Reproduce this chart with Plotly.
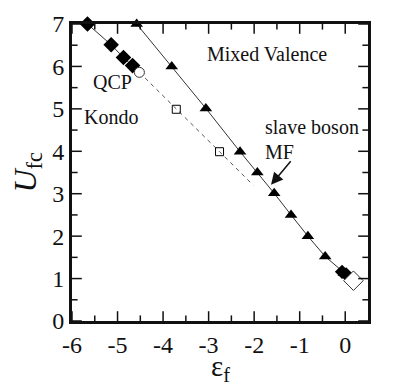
import plotly.graph_objects as go

# Kondo-side filled diamonds, ending at the QCP (open circle)
kondo_x = [-5.66, -5.14, -4.87, -4.67, -4.52]
kondo_y = [7.0, 6.51, 6.21, 6.02, 5.86]

qcp_x = [-4.52]
qcp_y = [5.86]

# dashed continuation with open squares
dash_x = [-4.52, -3.71, -2.76, -2.02]
dash_y = [5.86, 4.99, 3.99, 3.2]
square_x = [-3.71, -2.76]
square_y = [4.99, 3.99]

# slave boson MF line (triangles)
sb_x = [-4.58, -3.81, -3.06, -2.31, -1.93, -1.56, -1.19, -0.82, -0.44, -0.03, 0.18]
sb_y = [7.0, 6.0, 5.01, 3.99, 3.5, 3.01, 2.5, 2.0, 1.52, 1.13, 0.95]
tri_x = sb_x[:-1]
tri_y = sb_y[:-1]

# filled diamonds near eps_f = 0 and the open diamond end point
right_dia_x = [-0.07, 0.02]
right_dia_y = [1.16, 1.1]
end_x = [0.18]
end_y = [0.95]

x_range = [-6, 0.5]
y_range = [0, 7]
x_ticks = [-6, -5, -4, -3, -2, -1, 0]
y_ticks = [0, 1, 2, 3, 4, 5, 6, 7]
x_minor = [-5.5, -4.5, -3.5, -2.5, -1.5, -0.5]
y_minor = [0.5, 1.5, 2.5, 3.5, 4.5, 5.5, 6.5]

font = "Liberation Serif, Times New Roman, serif"
ink = "#111"

fig = go.Figure()
fig.add_trace(go.Scatter(x=dash_x, y=dash_y, mode="lines",
                         line=dict(color="#555", width=1, dash="4px,4px")))
fig.add_trace(go.Scatter(x=square_x, y=square_y, mode="markers",
                         marker=dict(symbol="square-open", size=8, color="black",
                                     line=dict(width=1))))
fig.add_trace(go.Scatter(x=kondo_x, y=kondo_y, mode="lines",
                         line=dict(color="#333", width=1)))
fig.add_trace(go.Scatter(x=kondo_x[:-1], y=kondo_y[:-1], mode="markers",
                         marker=dict(symbol="diamond", size=12, color="black"),
                         cliponaxis=False))
fig.add_trace(go.Scatter(x=qcp_x, y=qcp_y, mode="markers",
                         marker=dict(symbol="circle", size=10, color="white",
                                     line=dict(color="#333", width=1))))
fig.add_trace(go.Scatter(x=sb_x, y=sb_y, mode="lines",
                         line=dict(color="#333", width=1)))
fig.add_trace(go.Scatter(x=tri_x, y=tri_y, mode="markers",
                         marker=dict(symbol="triangle-up", size=11, color="black"),
                         cliponaxis=False))
fig.add_trace(go.Scatter(x=right_dia_x, y=right_dia_y, mode="markers",
                         marker=dict(symbol="diamond", size=11, color="black")))
fig.add_trace(go.Scatter(x=end_x, y=end_y, mode="markers",
                         marker=dict(symbol="diamond", size=15, color="white",
                                     line=dict(color="#333", width=1))))


# inward ticks on all four sides, drawn as line markers clipped by the frame
def tick_trace(xs, ys, symbol, size):
    return go.Scatter(x=xs, y=ys, mode="markers", hoverinfo="skip",
                      marker=dict(symbol=symbol, size=size, color=ink,
                                  line=dict(color=ink, width=1.5)))


for xs, size in [(x_ticks, 14), (x_minor, 8)]:
    for edge in y_range:
        fig.add_trace(tick_trace(xs, [edge] * len(xs), "line-ns", size))
for ys, size in [(y_ticks, 14), (y_minor, 8)]:
    for edge in x_range:
        fig.add_trace(tick_trace([edge] * len(ys), ys, "line-ew", size))

fig.update_traces(showlegend=False)

labels = [
    ("Mixed Valence", -3.08, 6.29),
    ("QCP", -5.58, 5.64),
    ("Kondo", -5.78, 4.8),
    ("slave boson", -1.8, 4.58),
    ("MF", -1.8, 3.99),
]
for txt, lx, ly in labels:
    fig.add_annotation(x=lx, y=ly, text=txt, showarrow=False, xanchor="left",
                       yanchor="middle", font=dict(family=font, size=20, color=ink))

fig.add_annotation(x=-1.63, y=3.21, ax=-1.17, ay=3.8, axref="x", ayref="y",
                   text="", showarrow=True, arrowhead=2, arrowsize=1.6,
                   arrowwidth=1.5, arrowcolor=ink)

# axis titles placed by hand
fig.add_annotation(xref="paper", yref="paper", x=0.5, y=0, yshift=-47,
                   text="ε<sub>f</sub>", showarrow=False, yanchor="middle",
                   font=dict(family=font, size=29, color=ink))
fig.add_annotation(xref="paper", yref="paper", x=0, y=0.5, xshift=-45,
                   text="<i>U</i><sub>fc</sub>", showarrow=False, textangle=-90,
                   xanchor="center", font=dict(family=font, size=32, color=ink))

axis_style = dict(showline=True, linewidth=3, linecolor=ink, mirror=True,
                  ticks="", showgrid=False, zeroline=False, automargin=False,
                  tickfont=dict(family=font, size=24, color=ink))
fig.update_xaxes(range=x_range, tickvals=x_ticks, ticktext=[str(v) for v in x_ticks],
                 **axis_style)
fig.update_yaxes(range=y_range, tickvals=y_ticks, ticktext=[str(v) for v in y_ticks],
                 **axis_style)

# page body adds an 8px offset, so the figure is shrunk to fit the window
fig.update_layout(width=407, height=381, margin=dict(l=64, r=47, t=16, b=68),
                  plot_bgcolor="white", paper_bgcolor="white")

fig.write_html("out.html")
